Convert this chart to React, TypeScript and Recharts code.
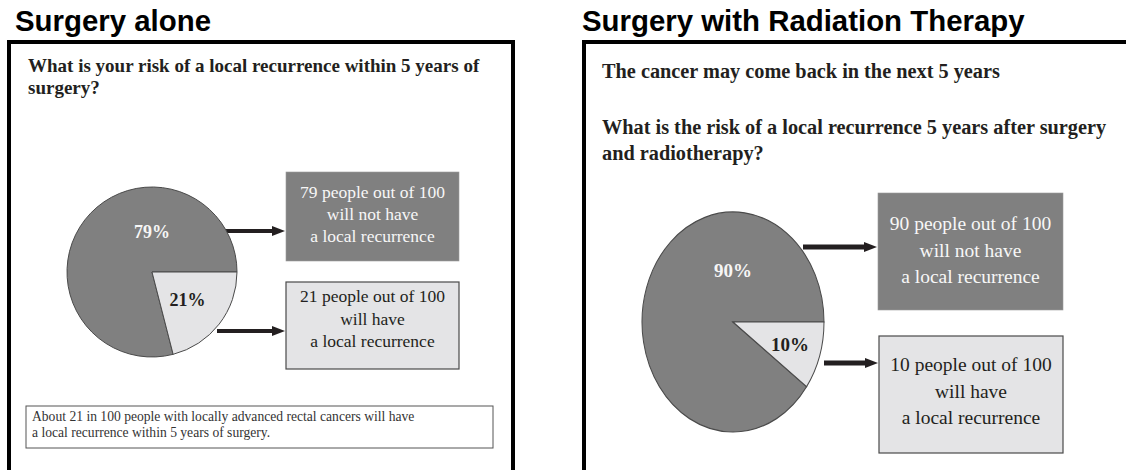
import { Cell, Pie, PieChart } from 'recharts';

const PANEL_TITLES = ['Surgery alone', 'Surgery with Radiation Therapy'];
const SLICE_NAMES = ['No local recurrence', 'Local recurrence'];
const SURGERY_ALONE = [79, 21];
const SURGERY_RT = [90, 10];
const LEFT_QUESTION = ['What is your risk of a local recurrence within 5 years of', 'surgery?'];
const RIGHT_INTRO = ['The cancer may come back in the next 5 years'];
const RIGHT_QUESTION = ['What is the risk of a local recurrence 5 years after surgery', 'and radiotherapy?'];
const NOTE = [
  'About 21 in 100 people with locally advanced rectal cancers will have',
  'a local recurrence within 5 years of surgery.',
];

const INK = '#231f20';
const SLICE_COLORS = ['#808080', '#e4e4e6'];
const SERIF = '"Liberation Serif", "Times New Roman", serif';
const SANS = '"Liberation Sans", Arial, sans-serif';

const boxLines = (value: number, index: number) => [
  `${value} people out of 100`,
  index === 0 ? 'will not have' : 'will have',
  'a local recurrence',
];

interface RiskPieProps {
  values: number[];
  cx: number;
  cy: number;
  radius: number;
  stretchY: number;
  smallLabelR: number;
  fontSize: number;
}

function RiskPie({ values, cx, cy, radius, stretchY, smallLabelR, fontSize }: RiskPieProps) {
  const data = SLICE_NAMES.map((name, i) => ({ name, value: values[i] }));
  const size = radius * 2 + 20;

  // big slice label sits straight above the centre, small one on its mid angle
  const renderLabel = (p: any) => {
    const big = p.percent > 0.5;
    const angle = big ? 90 : p.midAngle;
    const r = p.outerRadius * (big ? 0.47 : smallLabelR);
    const x = p.cx + r * Math.cos((-angle * Math.PI) / 180);
    const y = p.cy + r * Math.sin((-angle * Math.PI) / 180);
    return (
      <text
        transform={`translate(${x},${y}) scale(1,${1 / stretchY})`}
        textAnchor="middle"
        dominantBaseline="central"
        fill={big ? '#f6f6f6' : INK}
        fontFamily={SERIF}
        fontWeight={700}
        fontSize={fontSize}
      >
        {p.value}%
      </text>
    );
  };

  return (
    <div
      style={{
        position: 'absolute',
        left: cx - size / 2,
        top: cy - size / 2,
        width: size,
        height: size,
        transform: `scaleY(${stretchY})`,
        transformOrigin: '50% 50%',
      }}
    >
      <PieChart width={size} height={size} margin={{ top: 0, right: 0, bottom: 0, left: 0 }}>
        <Pie
          data={data}
          dataKey="value"
          nameKey="name"
          cx={size / 2}
          cy={size / 2}
          outerRadius={radius}
          startAngle={0}
          endAngle={360}
          stroke="#4a4a4a"
          strokeWidth={1}
          label={renderLabel}
          labelLine={false}
          isAnimationActive={false}
        >
          {data.map((d, i) => (
            <Cell key={d.name} fill={SLICE_COLORS[i]} />
          ))}
        </Pie>
      </PieChart>
    </div>
  );
}

function Arrow({ x1, x2, y, w = 4 }: { x1: number; x2: number; y: number; w?: number }) {
  const head = 13;
  return (
    <g fill={INK}>
      <rect x={x1} y={y - w / 2} width={x2 - head - x1 + 2} height={w} />
      <polygon points={`${x2 - head},${y - 5} ${x2},${y} ${x2 - head},${y + 5}`} />
    </g>
  );
}

function InfoBox({
  x, y, w, h, lines, dark, fontSize, lineGap, firstBaseline,
}: {
  x: number; y: number; w: number; h: number; lines: string[]; dark: boolean;
  fontSize: number; lineGap: number; firstBaseline: number;
}) {
  return (
    <g>
      <rect
        x={x}
        y={y}
        width={w}
        height={h}
        fill={dark ? SLICE_COLORS[0] : SLICE_COLORS[1]}
        stroke={dark ? '#9a9a9a' : '#4a4a4a'}
        strokeWidth={dark ? 0.6 : 1.2}
      />
      {lines.map((t, i) => (
        <text
          key={t}
          x={x + w / 2}
          y={firstBaseline + i * lineGap}
          textAnchor="middle"
          fontFamily={SERIF}
          fontSize={fontSize}
          fill={dark ? '#f7f7f7' : INK}
        >
          {t}
        </text>
      ))}
    </g>
  );
}

export default function App() {
  return (
    <div style={{ position: 'absolute', left: 0, top: 0, width: 1126, height: 470, overflow: 'hidden', background: '#fff' }}>
      <svg width={1126} height={470} style={{ position: 'absolute', left: 0, top: 0 }}>
        {/* panel titles */}
        <text x={15} y={31} fontFamily={SANS} fontWeight={700} fontSize={29.4} fill="#000">
          {PANEL_TITLES[0]}
        </text>
        <text x={582} y={31} fontFamily={SANS} fontWeight={700} fontSize={29.4} fill="#000">
          {PANEL_TITLES[1]}
        </text>

        {/* frames */}
        <rect x={9} y={42} width={504} height={500} fill="none" stroke="#000" strokeWidth={4} />
        <rect x={584} y={42} width={700} height={500} fill="none" stroke="#000" strokeWidth={4} />

        {/* left panel text */}
        {LEFT_QUESTION.map((t, i) => (
          <text key={t} x={28} y={72 + i * 22} fontFamily={SERIF} fontWeight={700} fontSize={19} fill={INK}>
            {t}
          </text>
        ))}

        {/* right panel text */}
        {RIGHT_INTRO.map((t) => (
          <text key={t} x={602} y={78} fontFamily={SERIF} fontWeight={700} fontSize={20.3} fill={INK}>
            {t}
          </text>
        ))}
        {RIGHT_QUESTION.map((t, i) => (
          <text key={t} x={602} y={134 + i * 26} fontFamily={SERIF} fontWeight={700} fontSize={20.3} fill={INK}>
            {t}
          </text>
        ))}

        {/* left boxes */}
        <InfoBox x={286} y={172} w={173} h={89} lines={boxLines(SURGERY_ALONE[0], 0)} dark fontSize={17.5} lineGap={22} firstBaseline={198} />
        <InfoBox x={286} y={282} w={173} h={87} lines={boxLines(SURGERY_ALONE[1], 1)} dark={false} fontSize={17.5} lineGap={22.5} firstBaseline={302} />
        <Arrow x1={217} x2={285} y={231} />
        <Arrow x1={217} x2={285} y={331} />

        {/* right boxes */}
        <InfoBox x={878} y={193} w={185} h={117} lines={boxLines(SURGERY_RT[0], 0)} dark fontSize={19.5} lineGap={26.7} firstBaseline={230} />
        <InfoBox x={879} y={336} w={184} h={117} lines={boxLines(SURGERY_RT[1], 1)} dark={false} fontSize={19.5} lineGap={26.5} firstBaseline={371} />
        <Arrow x1={803} x2={877} y={247} w={5} />
        <Arrow x1={824} x2={878} y={363} w={5} />

        {/* note */}
        <rect x={26} y={406} width={467} height={42} fill="#fff" stroke="#555" strokeWidth={1} />
        {NOTE.map((t, i) => (
          <text key={t} x={32} y={421 + i * 16} fontFamily={SERIF} fontSize={13.6} fill="#333">
            {t}
          </text>
        ))}
      </svg>

      <RiskPie values={SURGERY_ALONE} cx={152} cy={272} radius={85} stretchY={1} smallLabelR={0.53} fontSize={18} />
      <RiskPie values={SURGERY_RT} cx={733} cy={322} radius={91} stretchY={1.209} smallLabelR={0.66} fontSize={19} />
    </div>
  );
}
